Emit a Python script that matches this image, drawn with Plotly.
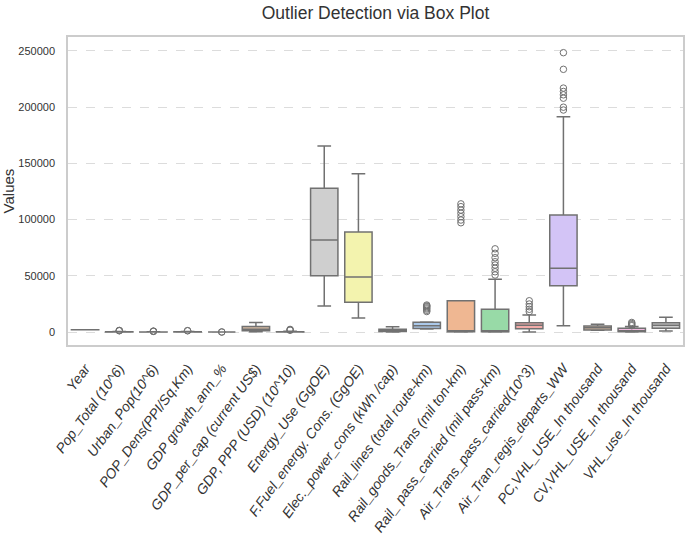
import colorsys
import plotly.graph_objects as go

categories = [
    "Year", "Pop_Total (10^6)", "Urban_Pop(10^6)", "POP_Dens(PPI/Sq.Km)",
    "GDP growth_ann_%", "GDP_per_cap (current US$)", "GDP, PPP (USD) (10^10)",
    "Energy_Use (GgOE)", "F.Fuel_energy. Cons. (GgOE)", "Elec._power_cons (kWh /cap)",
    "Rail_lines (total route-km)", "Rail_goods_Trans (mil ton-km)",
    "Rail_ pass_carried (mil pass-km)", "Air_Trans_pass_carried(10^3)",
    "Air_Tran_regis_departs_WW", "PC,VHL_USE_In thousand",
    "CV,VHL_USE_In thousand", "VHL_use_In thousand",
]

lower_fence = [1990, 5, 2, 2, -3, 300, 5, 23100, 12500, 100, 2600, 0, 0, 0, 5600, 1500, 0, 900]
q1_vals = [1997, 20, 10, 30, 2, 1000, 40, 50100, 26400, 500, 3000, 200, 200, 2900, 41200, 1800, 300, 3300]
median_vals = [2005, 60, 30, 90, 4, 2500, 100, 81900, 48900, 1200, 5600, 800, 1000, 6000, 56700, 3800, 1200, 6000]
q3_vals = [2013, 160, 90, 200, 6, 4800, 300, 127800, 89000, 2400, 8600, 27800, 20200, 8300, 104100, 5300, 3300, 8300]
upper_fence = [2020, 350, 200, 450, 11, 8500, 700, 165500, 140800, 4700, 9000, 27800, 46900, 15100, 191500, 6800, 4800, 13100]

outliers = {
    "Pop_Total (10^6)": [1100, 1250, 1380],
    "Urban_Pop(10^6)": [550, 650, 800],
    "POP_Dens(PPI/Sq.Km)": [1100, 1200],
    "GDP growth_ann_%": [-15, 20],
    "GDP, PPP (USD) (10^10)": [1500, 2000, 2300],
    "Rail_lines (total route-km)": [18200, 19300, 20500, 21500, 22500, 23200, 24000],
    "Rail_goods_Trans (mil ton-km)": [97200, 99600, 102600, 105600, 108500, 111500, 114000],
    "Rail_ pass_carried (mil pass-km)": [50700, 53600, 56700, 59600, 62500, 66100, 70000, 74000],
    "Air_Trans_pass_carried(10^3)": [18100, 20200, 22500, 24900, 27800],
    "Air_Tran_regis_departs_WW": [197500, 200000, 208000, 211000, 214000, 217000, 233700, 248500],
    "CV,VHL_USE_In thousand": [5600, 6500, 7500, 8500],
}

y_ticks = [0, 50000, 100000, 150000, 200000, 250000]

pastel = ["#a1c9f4", "#ffb482", "#8de5a1", "#ff9f9b", "#d0bbff",
          "#debb9b", "#fab0e4", "#cfcfcf", "#fffea3", "#b9f2f0"]


def desaturate(hx, prop=0.75):
    r, g, b = (int(hx[i:i + 2], 16) / 255 for i in (1, 3, 5))
    h, l, s = colorsys.rgb_to_hls(r, g, b)
    r, g, b = colorsys.hls_to_rgb(h, l, s * prop)
    return "#%02x%02x%02x" % (round(r * 255), round(g * 255), round(b * 255))


colors = [desaturate(pastel[i % len(pastel)]) for i in range(len(categories))]
edge = "#717171"
font_family = "Liberation Sans, Arial, sans-serif"

fig = go.Figure()
for i, cat in enumerate(categories):
    fig.add_trace(go.Box(
        x=[cat], q1=[q1_vals[i]], median=[median_vals[i]], q3=[q3_vals[i]],
        lowerfence=[lower_fence[i]], upperfence=[upper_fence[i]],
        fillcolor=colors[i], line=dict(color=edge, width=1.5),
        width=0.8, whiskerwidth=0.5, boxpoints=False,
        name=cat, showlegend=False, hoverinfo="skip",
    ))

ox, oy = [], []
for cat in categories:
    for v in outliers.get(cat, []):
        ox.append(cat)
        oy.append(v)
fig.add_trace(go.Scatter(
    x=ox, y=oy, mode="markers", showlegend=False, hoverinfo="skip",
    marker=dict(symbol="circle-open", size=6.5, color=edge, line=dict(width=1)),
))

fig.update_layout(
    width=685, height=538,
    margin=dict(l=68, r=2, t=37, b=193),
    paper_bgcolor="white", plot_bgcolor="white",
    boxmode="overlay",
    font=dict(family=font_family, color="#333333"),
    title=dict(text="Outlier Detection via Box Plot", x=0.5, xref="paper",
               y=1 - 13 / 538, yref="container", yanchor="middle",
               font=dict(size=17.5, color="#333333")),
)
fig.update_xaxes(
    type="category", categoryorder="array", categoryarray=categories,
    range=[-0.5, len(categories) - 0.5],
    showgrid=False, zeroline=False, automargin=False,
    showline=True, mirror=True, linecolor="#cccccc", linewidth=1.5,
    tickangle=-54, tickfont=dict(size=14, color="#333333", style="italic"),
    ticks="", ticklabelstandoff=8,
)
fig.update_yaxes(
    range=[-11570, 262450], automargin=False,
    tickvals=y_ticks, ticktext=[str(v) for v in y_ticks],
    showgrid=True, gridcolor="#dcdcdc", gridwidth=1, griddash="dash",
    zeroline=False,
    showline=True, mirror=True, linecolor="#cccccc", linewidth=1.5,
    tickfont=dict(size=11, color="#333333"),
    ticklabelstandoff=9,
    title=dict(text="Values", font=dict(size=15, color="#333333"), standoff=7),
)

fig.write_html("out.html", config={"displayModeBar": False},
               post_script="document.body.style.margin='0';document.body.style.padding='0';")
